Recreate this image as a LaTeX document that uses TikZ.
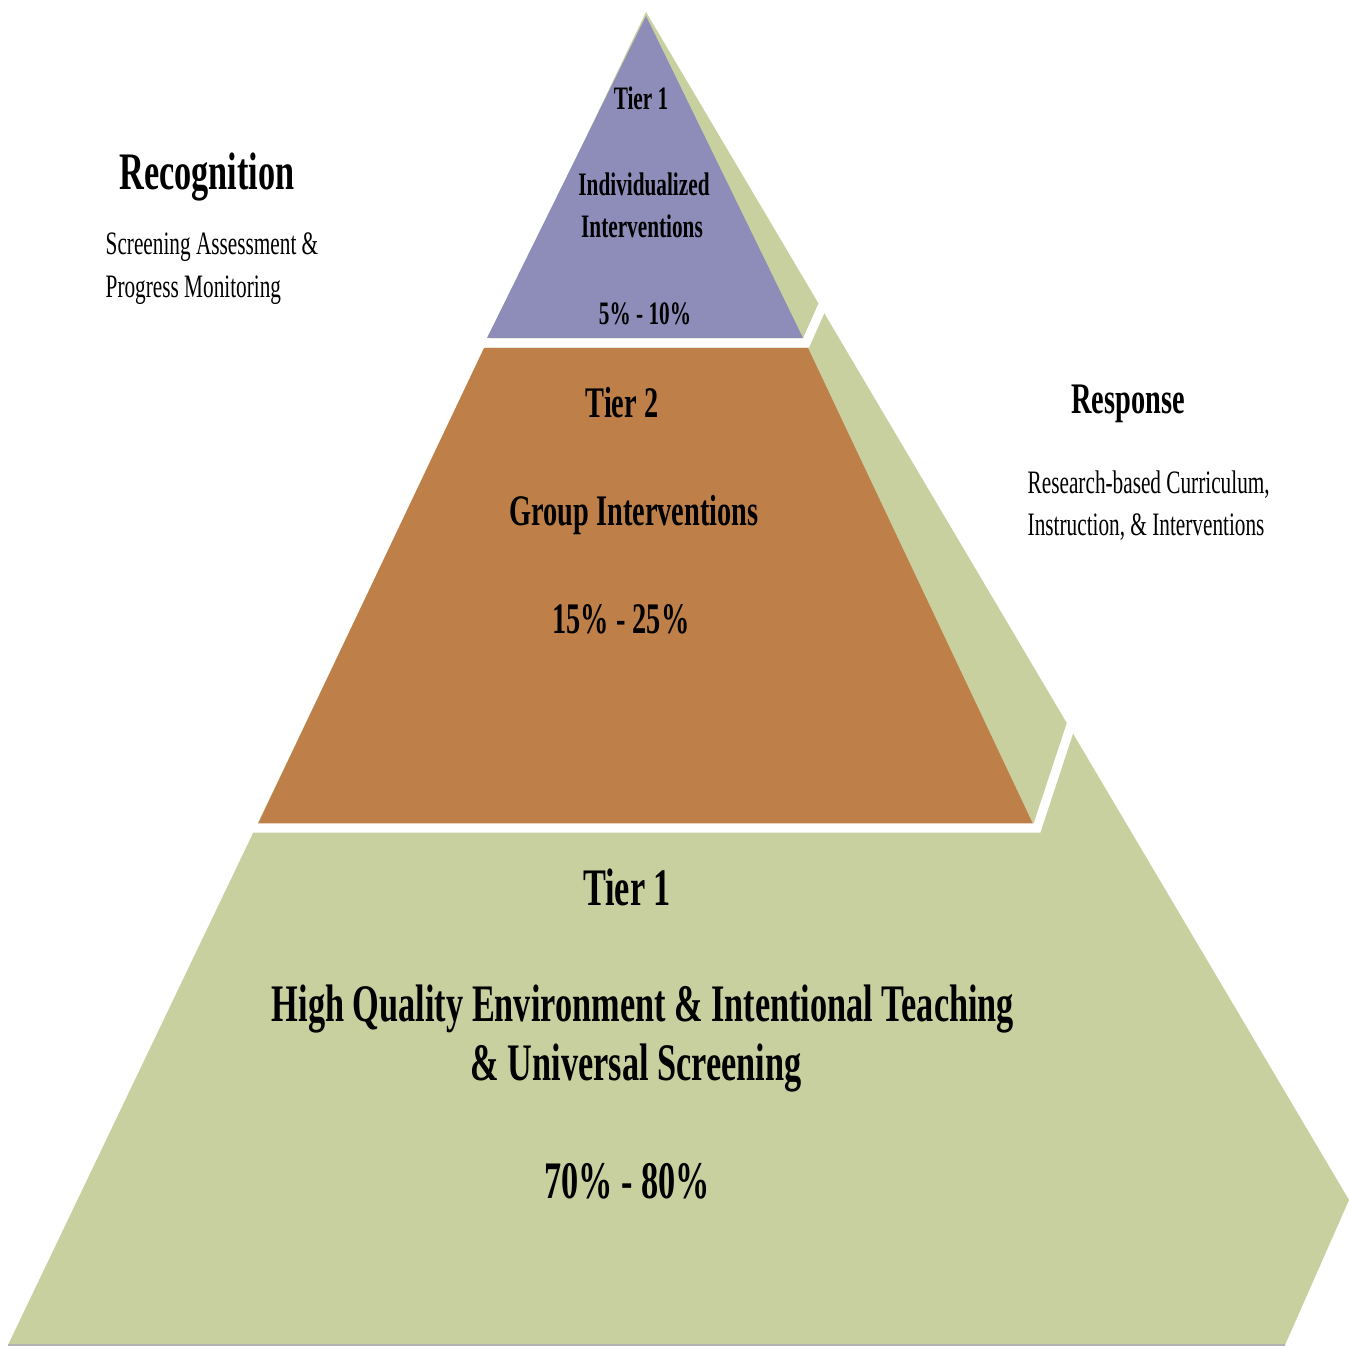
\documentclass[tikz,border=0pt]{standalone}
\usepackage{fontspec}
\usetikzlibrary{positioning}
\newfontfamily\pyrfont{Liberation Serif}[FakeStretch=0.65]
\definecolor{tiergreen}{RGB}{200,208,160}
\definecolor{tierorange}{RGB}{190,128,72}
\definecolor{tierpurple}{RGB}{142,140,184}

\begin{document}
\begin{tikzpicture}[
x=0.01cm,
y=-0.01cm,
face/.style={
  draw=none
  },
gap/.style={
  draw=white,
  line width=2.6pt,
  line join=miter
  },
txt/.style={
  inner sep=0pt,
  anchor=base
  },
big/.style={
  txt,
  font=\pyrfont\bfseries\fontsize{15}{17}\selectfont
  },
mid/.style={
  txt,
  font=\pyrfont\bfseries\fontsize{12.4}{14}\selectfont
  },
small/.style={
  txt,
  font=\pyrfont\bfseries\fontsize{9.3}{11}\selectfont
  },
note/.style={
  txt,
  anchor=base west,
  font=\pyrfont\fontsize{9.3}{11}\selectfont
  }
]
\useasboundingbox[fill=white] (0,0) rectangle (1349,1349);

% pyramid body
\fill[face,tiergreen] (646,12) -- (1349,1200) -- (1285,1345) -- (8,1345) -- cycle;
\draw[black!30,line width=0.5pt] (8,1345) -- (1285,1345);
\fill[face,tierpurple] (646,16) -- (803,338) -- (487,338) -- cycle;
\fill[face,tierorange] (484,348) -- (808,348) -- (1033,824) -- (258,824) -- cycle;

% white cuts between tiers
\draw[gap] (470,343) -- (806,343) -- (826,298);
\draw[gap] (240,828) -- (1037,828) -- (1072,722);

% top tier
\node[small] (t3a) at (641,110) {Tier 1};
\node[small] (t3b) at (644,196) {Individualized};
\node[small] (t3c) at (642,238) {Interventions};
\node[small] (t3d) at (645,325) {5\% - 10\%};

% middle tier
\node[mid] (t2a) at (622,417) {Tier 2};
\node[mid] (t2b) at (634,525) {Group Interventions};
\node[mid] (t2c) at (621,633) {15\% - 25\%};

% bottom tier
\node[big] (t1a) at (627,905) {Tier 1};
\node[big] (t1b) at (643,1021) {High Quality Environment \& Intentional Teaching};
\node[big] (t1c) at (636,1080) {\& Universal Screening};
\node[big] (t1d) at (627,1198) {70\% - 80\%};

% side notes
\node[big] (recog) at (207,190) {Recognition};
\node[note] (recog1) at (105,255) {Screening Assessment \&};
\node[note] (recog2) at (105,298) {Progress Monitoring};
\node[mid] (resp) at (1128,413) {Response};
\node[note] (resp1) at (1027,493) {Research-based Curriculum,};
\node[note] (resp2) at (1027,535) {Instruction, \& Interventions};
\end{tikzpicture}
\end{document}
